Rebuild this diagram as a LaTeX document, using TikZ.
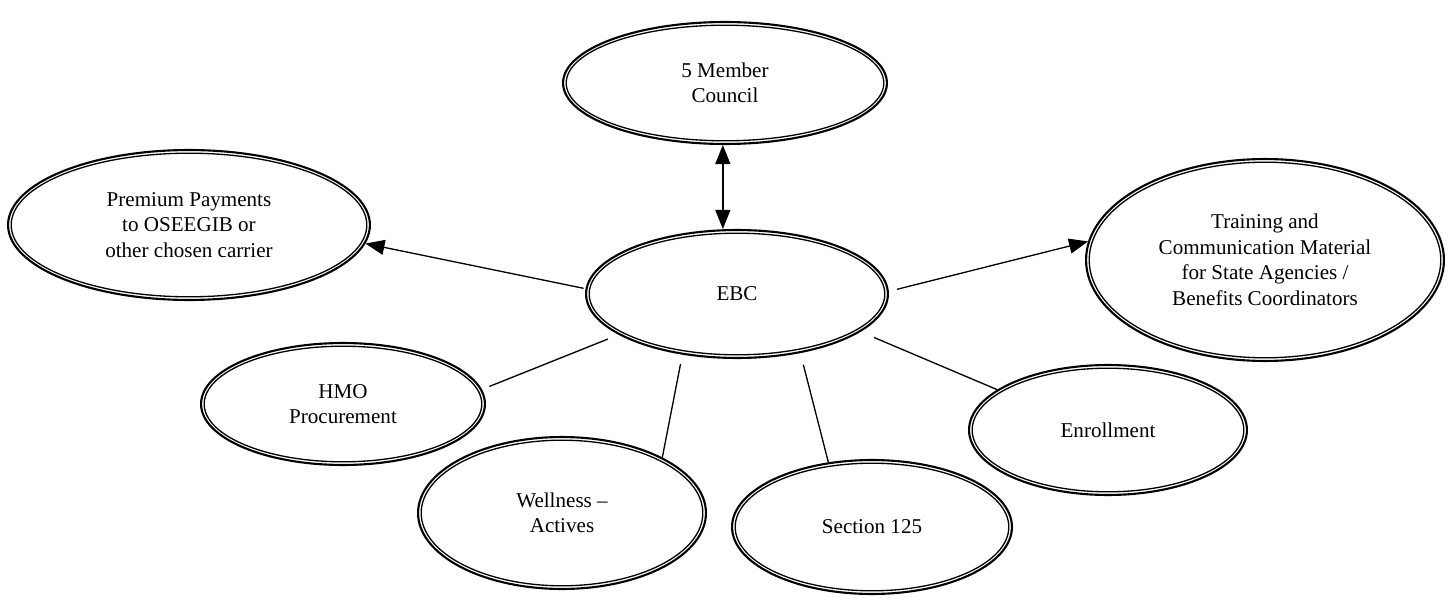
\documentclass[tikz,border=0pt]{standalone}
\usepackage{fontspec}
\setmainfont{Liberation Serif}
\usetikzlibrary{shapes.geometric,arrows.meta}

\tikzset{
  bub/.style={ellipse, draw, line width=1.2pt, inner sep=0pt, align=center,
              font=\fontsize{12}{14.5}\selectfont},
  innerline/.style={line width=0.75pt},
  link/.style={line width=0.75pt},
}

% double-ringed ellipse: name, centre x, centre y, x radius, y radius (in px units), text
\newcommand\mybubble[6]{%
  \node[bub, minimum width={0.04cm*(#4-1)}, minimum height={0.04cm*(#5-1)}] (#1) at (#2,#3) {#6};
  \draw[innerline] (#2,#3) ellipse [x radius={0.02cm*(#4-4.2)}, y radius={0.02cm*(#5-4.2)}];
}

\begin{document}
\begin{tikzpicture}[x=0.02cm, y=-0.02cm, >={Triangle[length=0.38cm,width=0.3cm]}]
  \useasboundingbox (0,0) rectangle (1455,608);

  \mybubble{council}{725}{83}{163}{62}{5 Member\\Council}
  \mybubble{prem}{189}{225}{182}{76}{Premium Payments\\to OSEEGIB or\\other chosen carrier}
  \mybubble{ebc}{737}{294}{152}{65}{EBC}
  \mybubble{train}{1265}{260}{180}{102}{Training and\\Communication Material\\for State Agencies /\\Benefits Coordinators}
  \mybubble{hmo}{343}{404}{143}{62}{HMO\\Procurement}
  \mybubble{well}{562}{513}{145}{77}{Wellness –\\Actives}
  \mybubble{sect}{872}{527}{141}{68}{Section 125}
  \mybubble{enrol}{1108}{430}{140}{66}{Enrollment}

  % connectors
  \draw[link,<->] (council.268) -- (council.268 |- ebc.north);
  \draw[link,->,shorten <=0.04cm] (ebc.178.3) -- (prem.-6);
  \draw[link,->,shorten <=0.17cm] (ebc.1.1) -- (train.174.6);
  \draw[link,shorten <=0.23cm,shorten >=0.16cm] (ebc.199.8) -- (hmo.6.7);
  \draw[link,shorten <=0.19cm] (ebc.228.4) -- (well.29.7);
  \draw[link,shorten <=0.24cm] (ebc.-43.2) -- (sect.124.3);
  \draw[link,shorten <=0.29cm] (ebc.-17.3) -- (enrol.160.5);
\end{tikzpicture}
\end{document}
